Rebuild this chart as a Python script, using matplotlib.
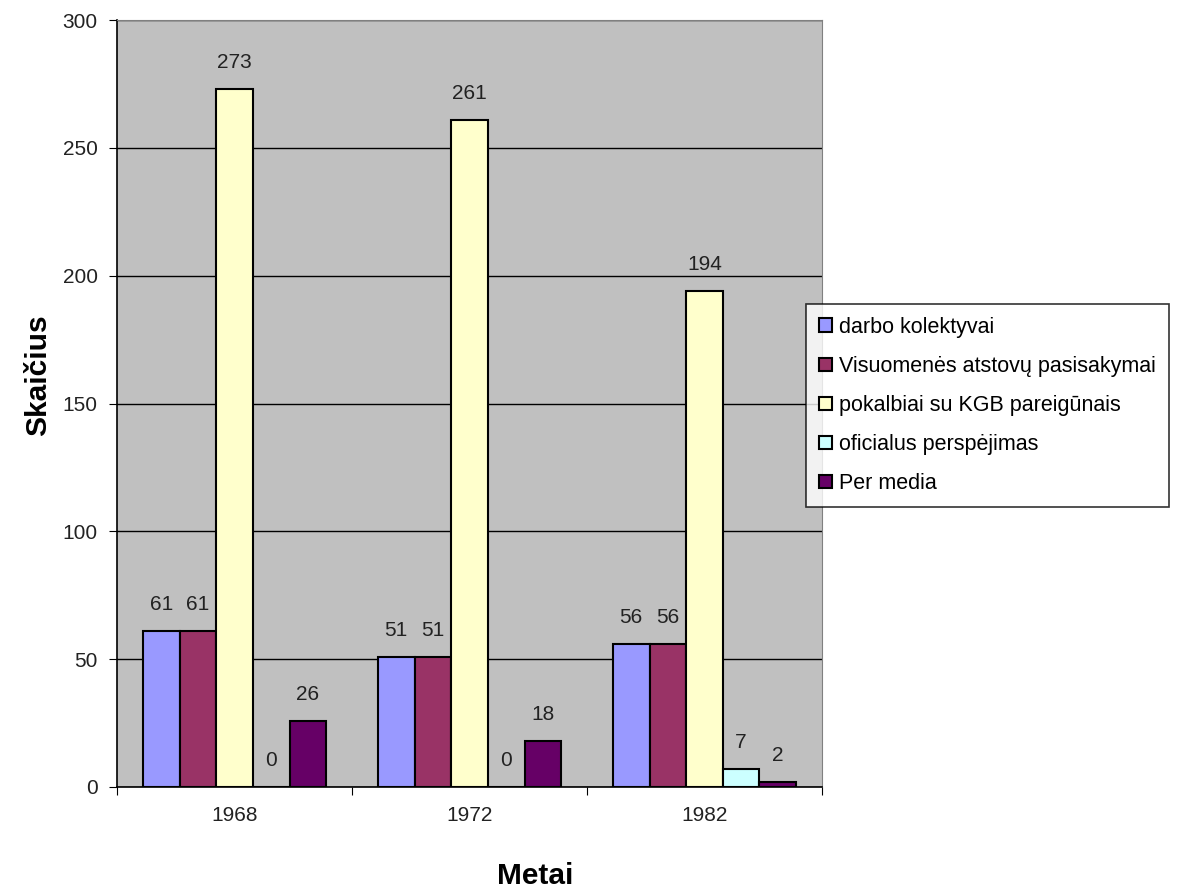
import matplotlib.pyplot as plt
import numpy as np

plt.rcParams['font.family'] = ['Liberation Sans', 'DejaVu Sans']

# Duomenys
metai = ['1968', '1972', '1982']
serijos = ['darbo kolektyvai', 'Visuomenės atstovų pasisakymai',
           'pokalbiai su KGB pareigūnais', 'oficialus perspėjimas', 'Per media']
darbo_kolektyvai = [61, 51, 56]
visuomenes_atstovai = [61, 51, 56]
pokalbiai_kgb = [273, 261, 194]
oficialus_perspejimas = [0, 0, 7]
per_media = [26, 18, 2]
spalvos = ['#9999FF', '#993366', '#FFFFCC', '#CCFFFF', '#660066']

reiksmes = [darbo_kolektyvai, visuomenes_atstovai, pokalbiai_kgb,
            oficialus_perspejimas, per_media]

fig = plt.figure(figsize=(11.8, 8.94), dpi=100)
ax = fig.add_axes([0.0992, 0.1197, 0.5974, 0.8579])
ax.set_facecolor('#C0C0C0')

x = np.arange(len(metai))
w = 0.156
for i, (vals, col, name) in enumerate(zip(reiksmes, spalvos, serijos)):
    pos = x + (i - 2) * w
    ax.bar(pos, vals, width=w, color=col, edgecolor='black', linewidth=1.5,
           label=name, zorder=3)
    for px, v in zip(pos, vals):
        ax.annotate(str(v), (px, v), xytext=(0, 19), textcoords='offset points',
                    ha='center', va='center', fontsize=15, color='#222222')

ax.set_xlim(-0.5, 2.5)
ax.set_ylim(0, 300)
ax.set_yticks(range(0, 301, 50))
ax.yaxis.grid(True, color='black', linewidth=1)
ax.set_axisbelow(True)
ax.set_xticks([-0.5, 0.5, 1.5, 2.5], minor=False)
ax.set_xticklabels([])
ax.set_xticks(x, minor=True)
ax.set_xticklabels(metai, minor=True)
ax.tick_params(axis='x', which='minor', length=0, pad=14, labelsize=15,
               labelcolor='#222222')
ax.tick_params(axis='x', which='major', length=6, direction='out')
ax.tick_params(axis='y', length=6, labelsize=15, pad=8, labelcolor='#222222')

for s in ['top', 'right']:
    ax.spines[s].set_color('#808080')
for s in ['left', 'bottom']:
    ax.spines[s].set_color('black')
    ax.spines[s].set_linewidth(1.2)

fig.text(38 / 1180, 1 - 375 / 894, 'Skaičius', fontsize=21.5, fontweight='bold',
         rotation=90, ha='center', va='center')
fig.text(535 / 1180, 1 - 876 / 894, 'Metai', fontsize=21.5, fontweight='bold',
         ha='center', va='center')

leg = fig.legend(loc='upper left', bbox_to_anchor=(806 / 1180, 1 - 304 / 894),
                 fontsize=15.5, frameon=True, fancybox=False, edgecolor='black',
                 handlelength=0.6, handleheight=0.6, handletextpad=0.35,
                 labelspacing=0.84, borderpad=0.6, borderaxespad=0)
leg.get_frame().set_linewidth(1.2)

plt.savefig('out.png', dpi=100)
